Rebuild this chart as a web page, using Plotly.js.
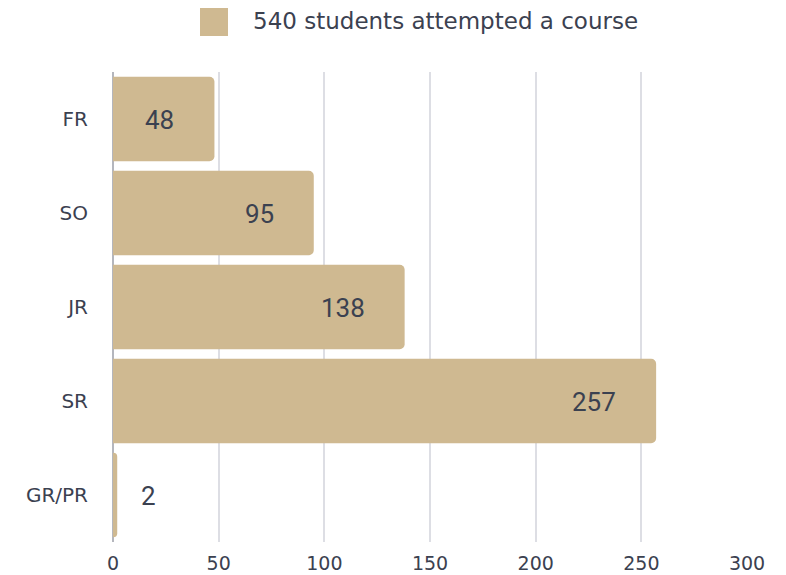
<!DOCTYPE html>
<html>
<head>
<meta charset="utf-8">
<script src="https://cdn.plot.ly/plotly-3.0.1.min.js"></script>
<style>html,body{margin:0;padding:0;background:#fff;}#chart{width:786px;height:575px;}</style>
</head>
<body>
<div id="chart"></div>
<script>
const categories = ["FR", "SO", "JR", "SR", "GR/PR"];
const values = [48, 95, 138, 257, 2];
const seriesName = "540 students attempted a course";
const xTicks = [0, 50, 100, 150, 200, 250, 300];

const gold = "#cfb991";
const textColor = "#3b4150";
const tickFont = "DejaVu Sans, sans-serif";

const annotations = values.map((v, i) => ({
  x: v, y: categories[i], xref: "x", yref: "y",
  text: String(v), showarrow: false,
  xanchor: v > 20 ? "right" : "left",
  xshift: v > 20 ? -38 : 22,
  yshift: -1,
  font: {family: "Roboto, Lato, sans-serif", size: 26, color: textColor}
}));
annotations.push({
  xref: "paper", yref: "paper", x: (251 - 113) / (786 - 113 - 39), y: 1,
  yshift: 51, xanchor: "left", yanchor: "middle",
  text: seriesName, showarrow: false,
  font: {family: tickFont, size: 23, color: textColor}
});

const trace = {
  type: "bar", orientation: "h",
  x: values, y: categories,
  name: seriesName,
  marker: {color: gold, cornerradius: 5},
  hoverinfo: "x+y",
  showlegend: false
};

const layout = {
  width: 786, height: 575,
  margin: {l: 113, r: 39, t: 72, b: 33},
  paper_bgcolor: "#fff", plot_bgcolor: "#fff",
  bargap: 0.1,
  xaxis: {
    range: [0, 300], tickvals: xTicks, ticktext: xTicks.map(String),
    showgrid: true, gridcolor: "#dddee4", gridwidth: 2,
    zeroline: true, zerolinecolor: "#b4b6bd", zerolinewidth: 2,
    showline: false, ticks: "", ticklen: 0, ticklabelstandoff: 8,
    tickfont: {family: tickFont, size: 19, color: textColor},
    fixedrange: true
  },
  yaxis: {
    autorange: "reversed", type: "category",
    showgrid: false, zeroline: false, showline: false,
    ticks: "outside", ticklen: 20, tickcolor: "rgba(0,0,0,0)",
    tickfont: {family: tickFont, size: 20, color: textColor},
    fixedrange: true
  },
  shapes: [{
    type: "rect", xref: "paper", yref: "paper",
    x0: (200 - 113) / 634, x1: (228 - 113) / 634,
    y0: 1 + (72 - 36) / 470, y1: 1 + (72 - 8) / 470,
    fillcolor: gold, line: {width: 0}
  }],
  annotations: annotations
};

Plotly.newPlot("chart", [trace], layout, {displayModeBar: false, staticPlot: true});
</script>
</body>
</html>
